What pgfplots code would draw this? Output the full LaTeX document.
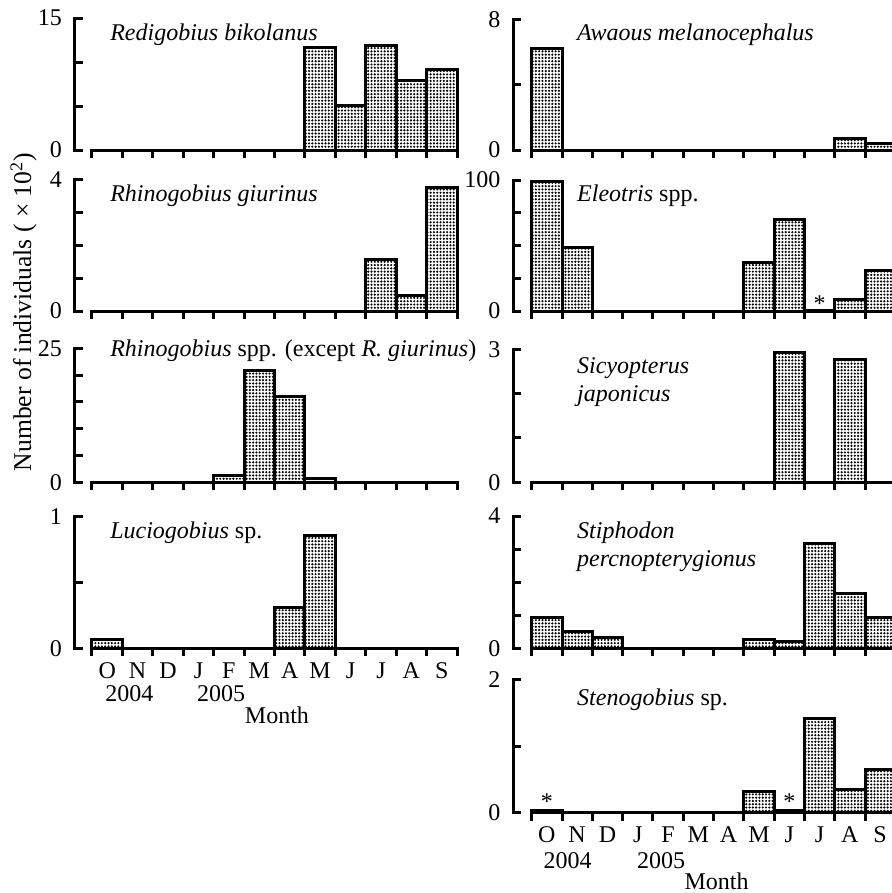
\documentclass[border=0pt]{standalone}
\usepackage{fontspec}
\setmainfont{Liberation Serif}
\usepackage{pgfplots}
\pgfplotsset{compat=1.18}
\usetikzlibrary{patterns}
\newcommand\fs{\fontsize{12bp}{14bp}\selectfont}
\pgfdeclarepatternformonly{finedots}{\pgfqpoint{-0.8pt}{-0.8pt}}{\pgfqpoint{1.6pt}{1.6pt}}{\pgfqpoint{1.65pt}{1.65pt}}{%
  \pgfpathcircle{\pgfqpoint{0pt}{0pt}}{0.6pt}\pgfusepath{fill}}
\tikzset{
  sp/.style={font=\fs\itshape, anchor=base west, inner sep=0pt},
  tx/.style={font=\fs, inner sep=0pt},
}
\pgfplotsset{
  panel/.style={
    scale only axis, clip=false,
    axis lines*=left, tick align=inside,
    xmin=0, xmax=12, ymin=0,
    xtick={0,...,12}, xticklabels={},
    major tick length=4bp,
    axis line style={line width=1.5bp, line cap=rect},
    tick style={line width=1.5bp, black},
    every tick label/.append style={font=\fs},
    yticklabel style={xshift=-3bp},
    /pgf/number format/assume math mode=true,
    ybar, bar width=1,
    anchor=south west,
  },
  leftcol/.style={panel, width=182.5bp, axis y line shift=8.5bp},
  rightcol/.style={panel, width=181.8bp, axis y line shift=9.2bp},
  bottompanel/.style={xticklabels={O,N,D,J,F,M,A,M,J,J,A,S}, x tick label as interval,
    xticklabel style={anchor=base, yshift=-11bp}},
  bars/.style={draw=black, line width=1.5bp, pattern=finedots, preaction={fill=white}},
}
\begin{document}
\begin{tikzpicture}
\useasboundingbox (0,0) rectangle (446bp,-446.5bp);
% ---------------- left column ----------------
\begin{axis}[leftcol, at={(46bp,-75bp)}, height=66bp, ymax=15,
  ytick={0,5,10,15}, yticklabels={0,,,15}]
\addplot[bars] coordinates {(7.5,11.7) (8.5,5.1) (9.5,11.9) (10.5,7.95) (11.5,9.2)};
\node[sp] at (rel axis cs:0.049,0.833) {Redigobius bikolanus};
\end{axis}
\begin{axis}[leftcol, at={(46bp,-155.5bp)}, height=65.5bp, ymax=4,
  ytick={0,1,2,3,4}, yticklabels={0,,,,4}]
\addplot[bars] coordinates {(9.5,1.58) (10.5,0.46) (11.5,3.78)};
\node[sp] at (rel axis cs:0.049,0.834) {Rhinogobius giurinus};
\end{axis}
\begin{axis}[leftcol, at={(46bp,-241.15bp)}, height=67bp, ymax=25,
  ytick={0,5,10,15,20,25}, yticklabels={0,,,,,25}]
\addplot[bars] coordinates {(4.5,1.36) (5.5,20.8) (6.5,16.1) (7.5,0.75)};
\node[sp] at (rel axis cs:0.049,0.937) {Rhinogobius\/ \upshape spp. (except \itshape R. giurinus\/\upshape)};
\end{axis}
\begin{axis}[leftcol, bottompanel, at={(46bp,-324.15bp)}, height=65.8bp, ymax=1,
  ytick={0,0.5,1}, yticklabels={0,,1}]
\addplot[bars] coordinates {(0.5,0.07) (6.5,0.31) (7.5,0.855)};
\node[sp] at (rel axis cs:0.049,0.836) {Luciogobius\/ \upshape sp.};
\node[tx, anchor=base west, yshift=-26.7bp] at (axis cs:0.43,0) {2004};
\node[tx, anchor=base west, yshift=-26.7bp] at (axis cs:3.44,0) {2005};
\node[tx, anchor=base, yshift=-37.5bp] at (axis cs:6.08,0) {Month};
\end{axis}
% ---------------- right column ----------------
\begin{axis}[rightcol, at={(265.85bp,-75bp)}, height=65bp, ymax=8,
  ytick={0,4,8}, yticklabels={0,,8}]
\addplot[bars] coordinates {(0.5,6.26) (10.5,0.72) (11.5,0.37)};
\node[sp] at (rel axis cs:0.124,0.846) {Awaous melanocephalus};
\end{axis}
\begin{axis}[rightcol, at={(265.85bp,-155.5bp)}, height=65.5bp, ymax=100,
  ytick={0,25,50,75,100}, yticklabels={0,,,,100}]
\addplot[bars] coordinates {(0.5,99.2) (1.5,48.6) (7.5,37.2) (8.5,69.5) (9.5,0.6) (10.5,8.9) (11.5,30.8)};
\node[sp] at (rel axis cs:0.124,0.834) {Eleotris\/ \upshape spp.};
\node[tx, anchor=base] at (axis cs:9.5,0) {*};
\end{axis}
\begin{axis}[rightcol, at={(265.85bp,-241.15bp)}, height=66.5bp, ymax=3,
  ytick={0,1,2,3}, yticklabels={0,,,3}]
\addplot[bars] coordinates {(8.5,2.92) (10.5,2.77)};
\node[sp] at (rel axis cs:0.124,0.82) {Sicyopterus};
\node[sp] at (rel axis cs:0.124,0.606) {japonicus};
\end{axis}
\begin{axis}[rightcol, at={(265.85bp,-324.15bp)}, height=66.15bp, ymax=4,
  ytick={0,1,2,3,4}, yticklabels={0,,,,4}]
\addplot[bars] coordinates {(0.5,0.93) (1.5,0.52) (2.5,0.32) (7.5,0.28) (8.5,0.22) (9.5,3.17) (10.5,1.66) (11.5,0.93)};
\node[sp] at (rel axis cs:0.124,0.831) {Stiphodon};
\node[sp] at (rel axis cs:0.124,0.617) {percnopterygionus};
\end{axis}
\begin{axis}[rightcol, bottompanel, at={(265.85bp,-406.35bp)}, height=66.7bp, ymax=2,
  ytick={0,1,2}, yticklabels={0,,2}]
\addplot[bars] coordinates {(0.5,0.04) (7.5,0.315) (8.5,0.04) (9.5,1.41) (10.5,0.355) (11.5,0.655)};
\node[sp] at (rel axis cs:0.124,0.807) {Stenogobius\/ \upshape sp.};
\node[tx, anchor=base, yshift=1.5bp] at (axis cs:0.5,0) {*};
\node[tx, anchor=base, yshift=1.5bp] at (axis cs:8.5,0) {*};
\node[tx, anchor=base west, yshift=-27.8bp] at (axis cs:0.38,0) {2004};
\node[tx, anchor=base west, yshift=-27.8bp] at (axis cs:3.47,0) {2005};
\node[tx, anchor=base, yshift=-38.6bp] at (axis cs:6.1,0) {Month};
\end{axis}
% y label
\node[inner sep=0pt, font=\fontsize{12.8bp}{15bp}\selectfont, rotate=90, anchor=base] at (15.5bp,-156bp) {Number of individuals ( × 10\textsuperscript{2})};
\end{tikzpicture}
\end{document}
